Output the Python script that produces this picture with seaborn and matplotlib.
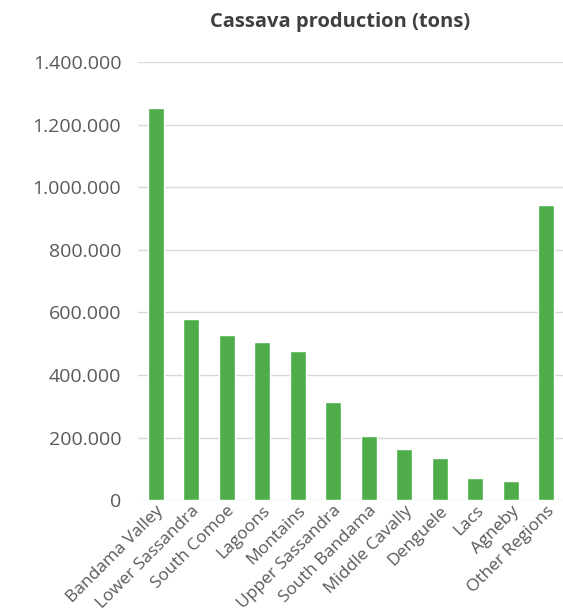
import matplotlib
matplotlib.use("Agg")
import matplotlib.pyplot as plt
import matplotlib.ticker as mticker
import seaborn as sns
import pandas as pd

regions = ["Bandama Valley", "Lower Sassandra", "South Comoe", "Lagoons", "Montains",
           "Upper Sassandra", "South Bandama", "Middle Cavally", "Denguele", "Lacs",
           "Agneby", "Other Regions"]
production = [1254000, 579000, 528000, 505000, 477000, 314000, 206000, 163000,
              134000, 70000, 61000, 942000]
yticks = [0, 200000, 400000, 600000, 800000, 1000000, 1200000, 1400000]

df = pd.DataFrame({"region": regions, "production": production})

sns.set_theme(style="white")
plt.rcParams['font.family'] = ['Open Sans', 'DejaVu Sans']

fig = plt.figure(figsize=(5.63, 6.16), dpi=100)
ax = fig.add_axes([0.245, 0.188, 0.757, 0.711])

sns.barplot(data=df, x="region", y="production", color="#4EAD48", width=0.45,
            saturation=1, ax=ax)

ax.set_ylim(0, 1400000)
ax.set_xlim(-0.5, len(regions) - 0.5)
ax.set_yticks(yticks)
ax.yaxis.set_major_formatter(mticker.FuncFormatter(lambda v, p: f"{int(v):,}".replace(",", ".")))
ax.grid(axis="y", color="#d9d9d9", linewidth=1)
ax.set_axisbelow(True)
for s in ax.spines.values():
    s.set_visible(False)
ax.set_xlabel("")
ax.set_ylabel("")
ax.tick_params(axis="y", labelsize=14, labelcolor="#595959", length=0, pad=12)
ax.tick_params(axis="x", labelsize=12.5, labelcolor="#595959", length=0, pad=2)
plt.setp(ax.get_xticklabels(), rotation=45, ha="right", rotation_mode="anchor")

fig.text(340 / 563, 1 - 22 / 616, "Cassava production (tons)", ha="center", va="center",
         fontsize=14.5, fontweight="bold", color="#404040")

fig.savefig("out.png", dpi=100)
